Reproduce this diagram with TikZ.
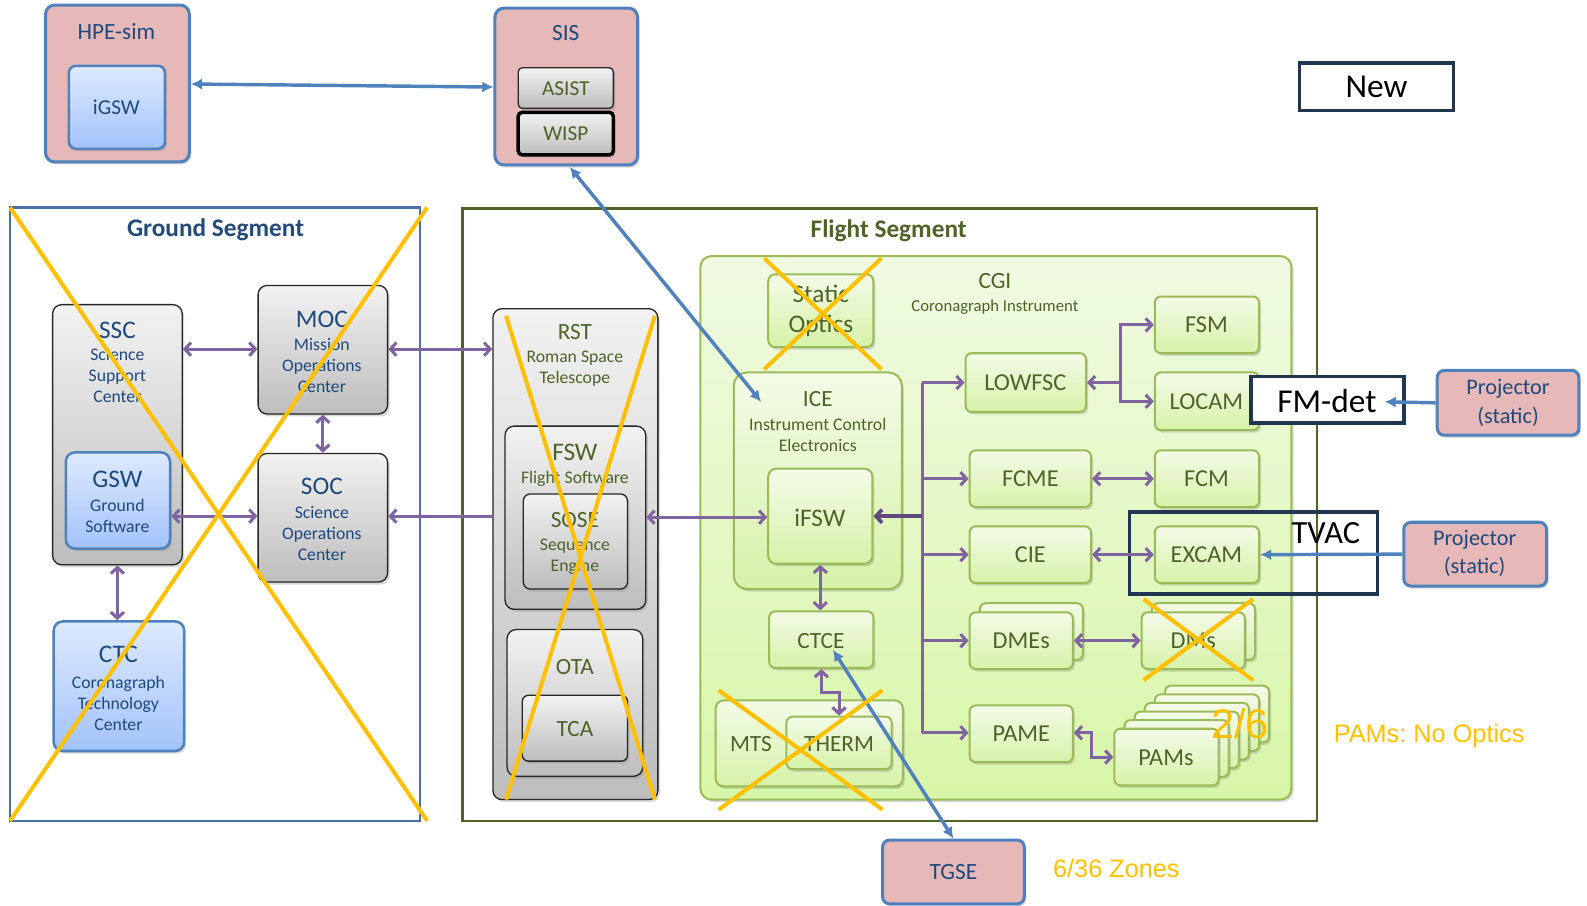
\documentclass[tikz,border=0pt]{standalone}
\usepackage{fontspec}
\setmainfont{Carlito}
\newfontfamily\arialf{Liberation Sans}
\usetikzlibrary{arrows.meta,shadows,fit}
\definecolor{pinkf}{HTML}{E6B9B8}
\definecolor{blueb}{HTML}{4F81BD}
\definecolor{purp}{HTML}{8064A2}
\definecolor{dpurp}{HTML}{5F497A}
\definecolor{orng}{HTML}{FFC000}
\definecolor{navy}{HTML}{1F3550}
\definecolor{dblue}{HTML}{1F497D}
\definecolor{gtitle}{HTML}{244A7A}
\definecolor{olive}{HTML}{4F6228}
\definecolor{grnb}{HTML}{9BBB59}
\definecolor{gsb}{HTML}{4A6FA5}
\definecolor{grtop}{HTML}{F2F2F2}
\definecolor{grbot}{HTML}{BDBDBD}
\definecolor{bltop}{HTML}{DDEAFE}
\definecolor{blbot}{HTML}{A3C3FA}
\definecolor{gntop}{HTML}{F4FBE8}
\definecolor{gnbot}{HTML}{D6F2A8}
\definecolor{cgtop}{HTML}{F0FAE2}
\definecolor{cgbot}{HTML}{D8F6A8}
\tikzset{
  box/.style={fit={#1}, inner sep=0pt, rounded corners=9pt},
  shad/.style={drop shadow={opacity=0.3, shadow xshift=2pt, shadow yshift=-2.5pt}},
  pinkbox/.style={fill=pinkf, draw=blueb, line width=3pt, shad},
  bluebox/.style={top color=bltop, bottom color=blbot, draw=blueb, line width=2.5pt, shad},
  graybox/.style={top color=grtop, bottom color=grbot, draw=black!85, line width=1.3pt, shad},
  grnbox/.style={top color=gntop, bottom color=gnbot, draw=grnb, line width=2pt, shad},
  cgibox/.style={top color=cgtop, bottom color=cgbot, draw=grnb, line width=2pt, shad},
  navybox/.style={draw=navy, line width=3.5pt, sharp corners},
  xline/.style={draw=orng, line width=4pt},
  pline/.style={draw=purp, line width=3pt},
  pa/.style={pline, -{Straight Barb[length=6pt,width=13pt]}},
  pab/.style={pline, {Straight Barb[length=6pt,width=13pt]}-{Straight Barb[length=6pt,width=13pt]}},
  ba/.style={draw=blueb, line width=3.4pt, -{Latex[length=11pt,width=11pt]}},
  bab/.style={draw=blueb, line width=3.4pt, {Latex[length=11pt,width=11pt]}-{Latex[length=11pt,width=11pt]}},
  tx/.style={inner sep=0pt, align=center},
  big/.style={tx, font=\fontsize{25}{28}\selectfont},
  mid/.style={tx, font=\fontsize{23}{27}\selectfont},
  lbl/.style={tx, font=\fontsize{21}{25}\selectfont},
  gl/.style={tx, font=\fontsize{24}{28}\selectfont, text=olive},
  sml/.style={tx, font=\fontsize{17.5}{21}\selectfont},
  orangetext/.style={tx, text=orng, font=\arialf\fontsize{25}{28}\selectfont\frenchspacing},
}
\begin{document}
\begin{tikzpicture}[x=1pt,y=-1pt]
\useasboundingbox (0,0) rectangle (1568,895);

% ---------- top row ----------
\node[box={(45,5)(187,160)}, pinkbox] (hpe) {};
\node[mid, text=dblue] (hpeT) at (115,31) {HPE-sim};
\node[box={(68,65)(163,147)}, bluebox, rounded corners=7pt] (igsw) {};
\node[lbl, text=dblue] (igswT) at (115,106) {iGSW};

\node[box={(489,8)(630,163)}, pinkbox] (sis) {};
\node[mid, text=dblue] (sisT) at (559,33) {SIS};
\node[box={(512,67)(606,107)}, graybox, rounded corners=4pt] (asist) {};
\node[lbl, text=olive] (asistT) at (559,88) {ASIST};
\node[box={(512,111)(606,153)}, graybox, draw=black, line width=3.5pt, rounded corners=4pt] (wisp) {};
\node[lbl, text=olive] (wispT) at (559,132) {WISP};

\node[box={(1284,62)(1436,109)}, navybox] (new) {};
\node[tx, font=\fontsize{33}{36}\selectfont] (newT) at (1360,86) {New};

% ---------- ground segment ----------
\node[box={(10,205)(415,811)}, sharp corners, draw=gsb, line width=2.5pt] (gframe) {};
\node[tx, font=\bfseries\fontsize{25}{28}\selectfont, text=gtitle] (gframeT) at (213,227) {Ground Segment};

\node[box={(52,301)(180,558)}, graybox] (ssc) {};
\node[big, text=dblue] (sscT) at (116,326) {SSC};
\node[sml, text=dblue] (sscS) at (116,371) {Science\\Support\\Center};
\node[box={(65,447)(168,542)}, bluebox] (gsw) {};
\node[big, text=dblue] (gswT) at (116,474) {GSW};
\node[sml, text=dblue] (gswS) at (116,510) {Ground\\Software};

\node[box={(255,282)(383,409)}, graybox] (moc) {};
\node[big, text=dblue] (mocT) at (318,316) {MOC};
\node[sml, text=dblue] (mocS) at (318,361) {Mission\\Operations\\Center};

\node[box={(255,448)(383,575)}, graybox] (soc) {};
\node[big, text=dblue] (socT) at (318,481) {SOC};
\node[sml, text=dblue] (socS) at (318,527) {Science\\Operations\\Center};

\node[box={(53,614)(182,742)}, bluebox] (ctc) {};
\node[big, text=dblue] (ctcT) at (117,647) {CTC};
\node[sml, text=dblue] (ctcS) at (117,695) {Coronagraph\\Technology\\Center};

% ---------- flight segment ----------
\node[box={(457,206)(1301,811)}, sharp corners, draw=olive, line width=2.5pt] (fframe) {};
\node[tx, font=\bfseries\fontsize{25}{28}\selectfont, text=olive] (fframeT) at (878,228) {Flight Segment};

\node[box={(487,305)(650,790)}, graybox] (rst) {};
\node[mid, text=olive] (rstT) at (568,328) {RST};
\node[sml, text=olive] (rstS) at (568,364) {Roman Space\\Telescope};
\node[box={(499,421)(638,602)}, graybox] (fsw) {};
\node[big, text=olive] (fswT) at (568,447) {FSW};
\node[sml, text=olive] (fswS) at (568,473) {Flight Software};
\node[box={(517,488)(620,582)}, graybox, rounded corners=7pt] (sose) {};
\node[mid, text=olive] (soseT) at (568,514) {SOSE};
\node[sml, text=olive] (soseS) at (568,550) {Sequence\\Engine};
\node[box={(501,622)(635,767)}, graybox] (ota) {};
\node[mid, text=olive] (otaT) at (568,659) {OTA};
\node[box={(516,687)(620,752)}, graybox, rounded corners=6pt] (tca) {};
\node[mid, text=olive] (tcaT) at (568,720) {TCA};

\node[box={(692,253)(1276,790)}, cgibox, rounded corners=11pt] (cgi) {};
\node[mid, text=olive] (cgiT) at (983,278) {CGI};
\node[sml, font=\fontsize{16.5}{20}\selectfont, text=olive] (cgiS) at (983,303) {Coronagraph Instrument};

\node[box={(759,271)(863,343)}, grnbox, rounded corners=7pt] (stat) {};
\node[tx, font=\fontsize{25}{29}\selectfont, text=olive] (statT) at (811,307) {Static\\Optics};

\node[box={(725,368)(891,582)}, grnbox, rounded corners=13pt] (ice) {};
\node[mid, text=olive] (iceT) at (808,394) {ICE};
\node[sml, text=olive] (iceS) at (808,430) {Instrument Control\\Electronics};
\node[box={(759,463)(862,557)}, grnbox, rounded corners=8pt] (ifsw) {};
\node[big, text=olive] (ifswT) at (810,512) {iFSW};

\node[box={(760,604)(863,660)}, grnbox, rounded corners=6pt] (ctce) {};
\node[mid, text=olive] (ctceT) at (811,633) {CTCE};
\node[box={(707,692)(892,777)}, grnbox, rounded corners=8pt] (mts) {};
\node[mid, text=olive] (mtsT) at (742,735) {MTS};
\node[box={(777,708)(881,760)}, grnbox, rounded corners=6pt] (therm) {};
\node[mid, text=olive] (thermT) at (829,735) {THERM};

\node[box={(954,349)(1073,407)}, grnbox, rounded corners=6pt] (lowfsc) {};
\node[gl] (lowfscT) at (1013,378) {LOWFSC};
\node[box={(1141,293)(1244,349)}, grnbox, rounded corners=6pt] (fsm) {};
\node[gl] (fsmT) at (1192,321) {FSM};
\node[box={(1141,368)(1244,425)}, grnbox, rounded corners=6pt] (locam) {};
\node[gl] (locamT) at (1192,397) {LOCAM};
\node[box={(958,445)(1078,501)}, grnbox, rounded corners=6pt] (fcme) {};
\node[gl] (fcmeT) at (1018,473) {FCME};
\node[box={(1141,445)(1244,501)}, grnbox, rounded corners=6pt] (fcm) {};
\node[gl] (fcmT) at (1192,473) {FCM};
\node[box={(958,520)(1078,576)}, grnbox, rounded corners=6pt] (cie) {};
\node[gl] (cieT) at (1018,548) {CIE};
\node[box={(1141,520)(1244,576)}, grnbox, rounded corners=6pt] (excam) {};
\node[gl] (excamT) at (1192,548) {EXCAM};

\node[box={(968,596)(1070,652)}, grnbox, rounded corners=6pt] (dmesb) {};
\node[box={(958,605)(1060,661)}, grnbox, rounded corners=6pt] (dmes) {};
\node[gl] (dmesT) at (1009,633) {DMEs};
\node[box={(1138,596)(1240,652)}, grnbox, rounded corners=6pt] (dmsb) {};
\node[box={(1128,605)(1230,661)}, grnbox, rounded corners=6pt] (dms) {};
\node[gl] (dmsT) at (1179,633) {DMs};

\node[box={(958,697)(1060,753)}, grnbox, rounded corners=6pt] (pame) {};
\node[gl] (pameT) at (1009,725) {PAME};
\foreach \k in {5,4,3,2,1}
  \node[box={({1101+10*\k},{720-8.5*\k})({1204+10*\k},{776-8.5*\k})}, grnbox, rounded corners=6pt] (pamsb\k) {};
\node[box={(1101,720)(1204,776)}, grnbox, rounded corners=6pt] (pams) {};
\node[gl] (pamsT) at (1152,749) {PAMs};

% ---------- test equipment ----------
\node[box={(1236,372)(1387,418)}, navybox, fill=white] (fmdet) {};
\node[tx, font=\fontsize{33}{36}\selectfont] (fmdetT) at (1311,396) {FM-det};
\node[box={(1420,366)(1560,430)}, pinkbox, rounded corners=7pt] (proja) {};
\node[tx, font=\fontsize{22}{28}\selectfont, text=dblue] (projaT) at (1490,398) {Projector\\(static)};
\node[box={(1116,506)(1361,587)}, navybox] (tvac) {};
\node[tx, font=\fontsize{32}{36}\selectfont] (tvacT) at (1310,527) {TVAC};
\node[box={(1387,516)(1528,579)}, pinkbox, rounded corners=7pt] (projb) {};
\node[tx, font=\fontsize{22}{28}\selectfont, text=dblue] (projbT) at (1457,547) {Projector\\(static)};
\node[box={(872,830)(1012,893)}, pinkbox, rounded corners=7pt] (tgse) {};
\node[mid, text=dblue] (tgseT) at (942,862) {TGSE};

\node[orangetext] (noopt) at (1412,727) {PAMs: No Optics};
\node[orangetext] (zones) at (1103,858) {6/36 Zones};
\node[orangetext, font=\arialf\fontsize{41}{44}\selectfont] (frac) at (1225,715) {2/6};

% ---------- connectors ----------
\draw[pab] (ssc.east |- 0,345) -- (moc.west |- 0,345);
\draw[pab] (moc.south) -- (soc.north);
\draw[pab] (gsw.east |- 0,510) -- (soc.west |- 0,510);
\draw[pab] (ssc.south) -- (ssc.south |- ctc.north);
\draw[pab] (moc.east |- 0,345) -- (rst.west |- 0,345);
\draw[pa] (rst.west |- 0,510) -- (soc.east |- 0,510);
\draw[pab] (fsw.east |- 0,511) -- (ifsw.west |- 0,511);
\draw[pab] (ifsw.south) -- (ifsw.south |- ctce.north);
\draw[pab] (ctce.south) -- ++(0,23) -| (therm.north);

\coordinate (busT) at (911,378);
\coordinate (busB) at (911,724);
\draw[pline] (busT) -- (busB);
\draw[pa] (busT) -- (lowfsc.west);
\draw[pa] (busT |- fcme.west) -- (fcme.west);
\draw[pa] (busT |- cie.west) -- (cie.west);
\draw[pa] (busT |- dmes.west) -- (dmes.west);
\draw[pa] (busB) -- (pame.west |- busB);
\draw[draw=dpurp, line width=3.6pt, -{Straight Barb[length=6pt,width=13pt]}] (busT |- ifsw.east) -- (ifsw.east);

\coordinate (lj) at (1107,378);
\draw[pline, {Straight Barb[length=6pt,width=13pt]}-] (lowfsc.east) -- (lj);
\draw[pa] (lj) |- (fsm.west);
\draw[pa] (lj) |- (locam.west);
\draw[pab] (fcme.east) -- (fcm.west);
\draw[pab] (cie.east) -- (excam.west);
\draw[pab] (dmes.east) -- (dms.west);
\coordinate (pj) at (1078,724);
\draw[pab] (pame.east |- pj) -- (pj) |- (pams.west |- 0,748);

\draw[bab] (hpe.east |- 0,83) -- (sis.west |- 0,86);
\coordinate (sisB) at (563,165);
\coordinate (iceP) at (752,397);
\draw[bab] (sisB) -- (iceP);
\coordinate (ctceP) at (823,642);
\draw[bab] (ctceP) -- (tgse.north);
\coordinate (fmP) at (1368,397);
\draw[ba] (proja.west) -- (fmP);
\draw[ba] (projb.west) -- (excam.east);

% ---------- crossed-out marks ----------
\draw[xline] (10,205) -- (422,811) (422,205) -- (10,811);
\draw[xline] (500,312) -- (647,790) (647,312) -- (500,790);
\draw[xline] (755,255) -- (871,365) (871,255) -- (755,365);
\draw[xline] (710,682) -- (872,800) (872,682) -- (710,800);
\draw[xline] (1130,592) -- (1238,672) (1238,592) -- (1130,672);
\end{tikzpicture}
\end{document}
